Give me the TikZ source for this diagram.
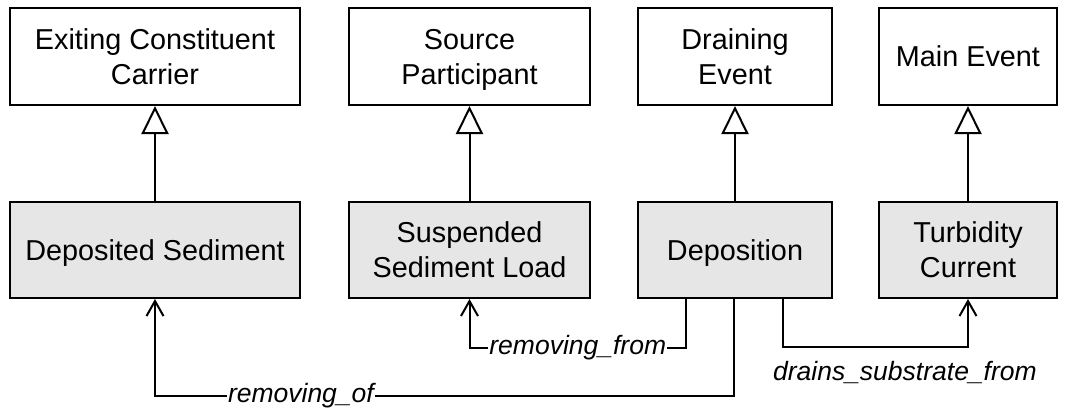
\documentclass[tikz,border=0pt]{standalone}
\usepackage{fontspec}
\setmainfont{Liberation Sans}
\usetikzlibrary{arrows.meta}
\definecolor{boxgray}{HTML}{E6E6E6}
\tikzset{
  cls/.style={draw=black, line width=2pt, rectangle, align=center,
    inner sep=0pt, font=\fontsize{28.8}{35}\selectfont,
    text height=20pt, text depth=0pt},
  twolines/.style={text height=55pt, text depth=0pt},
  concept/.style={cls, fill=white},
  instance/.style={cls, fill=boxgray},
  inh/.style={line width=2pt, -{Triangle[open, length=28pt, width=27pt, line width=2pt]}},
  assoc/.style={line width=2pt, -{Straight Barb[length=15pt, width=17pt, line width=2pt]}},
  labfont/.style={font=\fontsize{26.5}{30}\selectfont\itshape},
  lab/.style={labfont, fill=white, inner sep=1pt},
}
\begin{document}
\begin{tikzpicture}[x=1pt, y=-1pt]
\useasboundingbox (0,0) rectangle (1066,410);

% upper row: general classes
\node[concept, twolines, minimum width=290pt, minimum height=97pt] (ecc) at (155,56.5) {Exiting Constituent\\Carrier};
\node[concept, twolines, minimum width=241pt, minimum height=97pt] (sp) at (469.5,56.5) {Source\\Participant};
\node[concept, twolines, minimum width=194pt, minimum height=97pt] (de) at (735,56.5) {Draining\\Event};
\node[concept, minimum width=178pt, minimum height=97pt] (me) at (968,56.5) {Main Event};

% lower row: specialised classes
\node[instance, minimum width=290pt, minimum height=96pt] (ds) at (155,250) {Deposited Sediment};
\node[instance, twolines, minimum width=241pt, minimum height=96pt] (ssl) at (469.5,250) {Suspended\\Sediment Load};
\node[instance, minimum width=194pt, minimum height=96pt] (dep) at (735,250) {Deposition};
\node[instance, twolines, minimum width=178pt, minimum height=96pt] (tc) at (968,250) {Turbidity\\Current};

% generalisation links
\draw[inh] (ds.north) -- (ecc.south);
\draw[inh] (ssl.north) -- (sp.south);
\draw[inh] (dep.north) -- (de.south);
\draw[inh] (tc.north) -- (me.south);

% associations from Deposition
\draw[assoc] ([xshift=-49pt]dep.south) -- ++(0,49) -| node[lab, pos=0.25] {removing\_from} (ssl.south);
\draw[assoc] ([xshift=-1pt]dep.south) -- ++(0,97) -| node[lab, pos=0.374] {removing\_of} (ds.south);
\draw[assoc] ([xshift=48pt]dep.south) -- ++(0,48) -| node[labfont, pos=0.316, below=13pt, xshift=5pt, inner sep=0pt] {drains\_substrate\_from} (tc.south);
\end{tikzpicture}
\end{document}
